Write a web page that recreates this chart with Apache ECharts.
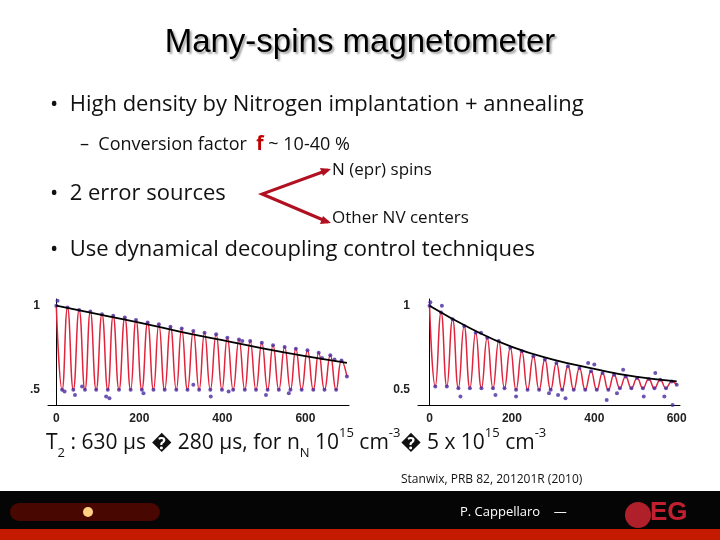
<!DOCTYPE html>
<html>
<head>
<meta charset="utf-8">
<title>Many-spins magnetometer</title>
<script src="https://cdn.jsdelivr.net/npm/echarts@6/dist/echarts.min.js"></script>
</head>
<body style="margin:0;background:#fff">
<div id="c" style="width:720px;height:540px"></div>
<script>
// left panel: alternating peak / trough points of the fit (time in µs)
const leftX = [0,14,27,41,55,69,82,96,110,124,137,151,165,179,192,206,220,234,247,261,275,289,302,316,330,344,357,371,385,399,412,426,440,454,467,481,495,509,522,536,550,564,577,591,605,619,632,646,660,674,687,700];
const leftY = [1,0.5,0.99,0.5,0.975,0.5,0.965,0.5,0.95,0.5,0.94,0.5,0.93,0.5,0.915,0.5,0.9,0.5,0.89,0.5,0.875,0.5,0.865,0.5,0.85,0.5,0.84,0.5,0.83,0.5,0.81,0.5,0.8,0.5,0.79,0.5,0.78,0.5,0.765,0.5,0.755,0.5,0.745,0.5,0.735,0.5,0.72,0.5,0.705,0.5,0.675,0.58];
const leftEnvX = [0,100,200,300,400,500,600,700];
const leftEnvY = [1,0.95,0.9,0.845,0.795,0.745,0.7,0.66];
const leftNoiseX = [3,20,45,62,120,128,210,330,372,415,448,505,560,640,670];
const leftNoiseY = [1.03,0.49,0.47,0.52,0.46,0.45,0.48,0.53,0.46,0.49,0.79,0.47,0.48,0.69,0.68];

// right panel
const rightX = [0,14,28,42,56,70,84,98,112,126,140,154,168,182,196,210,224,238,252,266,280,294,308,322,336,350,364,378,392,406,420,434,448,462,476,490,504,518,532,546,560,574,588,600];
const rightY = [1,0.52,0.96,0.52,0.92,0.51,0.88,0.51,0.84,0.51,0.81,0.51,0.79,0.51,0.75,0.5,0.73,0.5,0.7,0.5,0.68,0.5,0.66,0.5,0.64,0.5,0.63,0.5,0.61,0.5,0.6,0.5,0.59,0.51,0.58,0.51,0.57,0.51,0.565,0.51,0.56,0.51,0.55,0.53];
const rightEnvX = [0,100,200,300,400,500,600];
const rightEnvY = [1,0.865,0.755,0.68,0.625,0.578,0.55];
const rightNoiseX = [2,30,75,125,160,210,290,312,330,385,400,430,455,470,520,548,570,590];
const rightNoiseY = [1.02,1.0,0.46,0.84,0.47,0.46,0.48,0.47,0.45,0.66,0.65,0.44,0.48,0.62,0.46,0.6,0.46,0.41];

const ticksX = [0, 200, 400, 600];
const leftTicksY = ['1', '.5'];
const rightTicksY = ['1', '0.5'];

const pairs = (xs, ys) => xs.map((x, i) => [x, ys[i]]);
const chart = echarts.init(document.getElementById('c'));
const font = '"Open Sans", sans-serif';

function axes(idx, min, max, yLabels) {
  return {
    x: {
      type: 'value', gridIndex: idx, min: min, max: max,
      axisLine: { lineStyle: { color: '#000', width: 1 } },
      axisTick: { show: false }, splitLine: { show: false },
      axisLabel: {
        color: '#222', fontSize: 12, fontWeight: 'bold', fontFamily: 'Arial',
        customValues: ticksX, formatter: v => ticksX.includes(v) ? String(v) : ''
      }
    },
    y: {
      type: 'value', gridIndex: idx, min: 0.41, max: 1.04,
      axisLine: { show: true, lineStyle: { color: '#000', width: 1 } },
      axisTick: { show: false }, splitLine: { show: false },
      axisLabel: {
        color: '#222', fontSize: 12, fontWeight: 'bold', fontFamily: 'Arial',
        customValues: [1, 0.5], formatter: v => v === 1 ? yLabels[0] : yLabels[1]
      }
    }
  };
}
const a0 = axes(0, -20, 705, leftTicksY);
const a1 = axes(1, -28, 608, rightTicksY);

const dots = (xi, data) => ({
  type: 'scatter', xAxisIndex: xi, yAxisIndex: xi, data: data,
  symbol: 'circle', symbolSize: 4, itemStyle: { color: '#4a2aa0' }, z: 3
});
const fit = (xi, data) => ({
  type: 'line', xAxisIndex: xi, yAxisIndex: xi, data: data, smooth: 0.5,
  showSymbol: false, lineStyle: { color: '#e0243c', width: 1.5 }, z: 2
});
const env = (xi, data) => ({
  type: 'line', xAxisIndex: xi, yAxisIndex: xi, data: data, smooth: true,
  showSymbol: false, lineStyle: { color: '#000', width: 1.8 }, z: 4
});

const txt = (x, y, text, size, extra) => ({
  type: 'text', left: x, top: y,
  style: Object.assign({ text: text, fontSize: size, fontFamily: font, fill: '#111' }, extra || {})
});

chart.setOption({
  animation: false,
  grid: [
    { left: 48, top: 299, width: 301, height: 106 },
    { left: 418, top: 299, width: 262, height: 106 }
  ],
  xAxis: [a0.x, a1.x],
  yAxis: [a0.y, a1.y],
  series: [
    fit(0, pairs(leftX, leftY)),
    dots(0, pairs(leftX, leftY).concat(pairs(leftNoiseX, leftNoiseY))),
    env(0, pairs(leftEnvX, leftEnvY)),
    fit(1, pairs(rightX, rightY)),
    dots(1, pairs(rightX, rightY).concat(pairs(rightNoiseX, rightNoiseY))),
    env(1, pairs(rightEnvX, rightEnvY))
  ],
  graphic: [
    { type: 'text', left: 'center', top: 26,
      style: { text: 'Many-spins magnetometer', fontSize: 33, fontFamily: 'Arial', fill: '#000',
               textShadowColor: 'rgba(0,0,0,0.35)', textShadowOffsetX: 2, textShadowOffsetY: 2, textShadowBlur: 2 } },
    txt(50, 94, '•  High density by Nitrogen implantation + annealing', 22),
    { type: 'text', left: 80, top: 135,
      style: { rich: { a: { fontSize: 18, fontFamily: font, fill: '#111' },
                       f: { fontSize: 19, fontFamily: font, fill: '#c00000', fontWeight: 'bold' } },
               text: '{a|–  Conversion factor  }{f|f}{a| ~ 10-40 %}' } },
    txt(332, 162, 'N (epr) spins', 17),
    txt(50, 183, '•  2 error sources', 22),
    txt(332, 210, 'Other NV centers', 17),
    txt(50, 239, '•  Use dynamical decoupling control techniques', 22),
    { type: 'polyline', shape: { points: [[328, 170], [262, 194], [328, 222]] },
      style: { stroke: '#b01020', lineWidth: 3, fill: null } },
    { type: 'polygon', shape: { points: [[331, 169], [320, 168], [323, 176]] }, style: { fill: '#b01020' } },
    { type: 'polygon', shape: { points: [[331, 223], [323, 216], [320, 224]] }, style: { fill: '#b01020' } },
    { type: 'text', left: 46, top: 427,
      style: { rich: { n: { fontSize: 21, fontFamily: font, fill: '#111' },
                       s: { fontSize: 13, fontFamily: font, fill: '#111', verticalAlign: 'bottom', padding: [0, 0, -6, 0] },
                       u: { fontSize: 13, fontFamily: font, fill: '#111', verticalAlign: 'top', padding: [-6, 0, 0, 0] } },
               text: '{n|T}{s|2}{n| : 630 µs \uFFFD 280 µs, for n}{s|N}{n| 10}{u|15}{n| cm}{u|-3}{n|\uFFFD 5 x 10}{u|15}{n| cm}{u|-3}' } },
    txt(401, 474, 'Stanwix, PRB 82, 201201R (2010)', 12),
    { type: 'rect', shape: { x: 0, y: 491, width: 720, height: 38 }, style: { fill: '#050505' } },
    { type: 'rect', shape: { x: 0, y: 529, width: 720, height: 11 }, style: { fill: '#c41a00' } },
    { type: 'rect', shape: { x: 10, y: 503, width: 150, height: 18, r: 9 }, style: { fill: '#5a0800', opacity: 0.8 } },
    { type: 'circle', shape: { cx: 88, cy: 512, r: 5 }, style: { fill: '#ffd080' } },
    txt(460, 506, 'P. Cappellaro    —', 13, { fill: '#fff' }),
    { type: 'circle', shape: { cx: 638, cy: 515, r: 13 }, style: { fill: '#b0202a' } },
    txt(650, 500, 'EG', 26, { fill: '#c02030', fontWeight: 'bold', fontFamily: 'Arial' })
  ]
});
</script>
</body>
</html>
